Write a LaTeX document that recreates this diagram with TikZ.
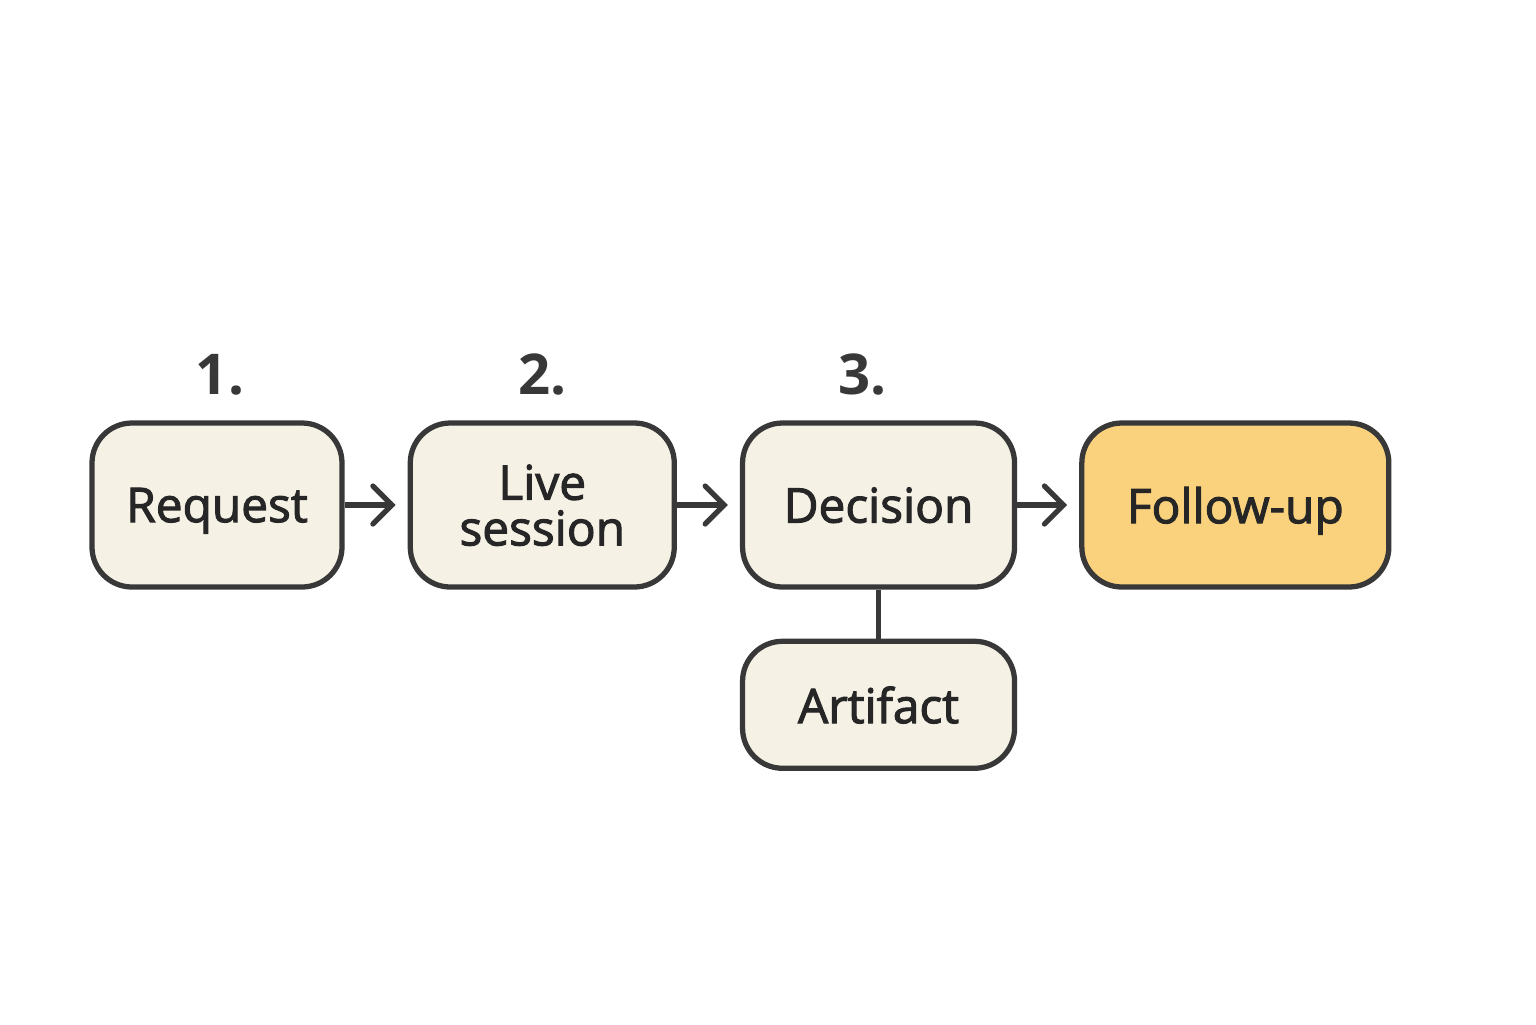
\documentclass[tikz,border=0pt]{standalone}
\usepackage{fontspec}
\setmainfont{Open Sans}
\newfontfamily\labelfont{Open Sans}[BoldFont=Open Sans, BoldFeatures={FakeBold=2.2}]
\usetikzlibrary{positioning,arrows.meta}

\definecolor{cream}{HTML}{F5F1E5}
\definecolor{amber}{HTML}{FAD27D}
\definecolor{ink}{HTML}{383838}
\definecolor{txt}{HTML}{262626}

\begin{document}
\begin{tikzpicture}[
  box/.style={draw=ink, line width=1.5pt, fill=cream, rounded corners=4mm, align=center,
    minimum height=1.64cm, inner sep=0pt, text=txt, text depth=0pt,
    font=\labelfont\bfseries\fontsize{13.6}{13}\selectfont},
  arr/.style={-{Straight Barb[length=1.9mm, width=3.8mm, line cap=round]}, line width=1.5pt, draw=ink, shorten >=1.2mm},
  stepno/.style={font=\bfseries\fontsize{16}{16}\selectfont, text=ink, inner sep=0pt},
]
\useasboundingbox (0,0) rectangle (15.36,-10.24);
\node[box, minimum width=2.5cm] (req) at (2.17,-5.05) {Request};
\node[box, minimum width=2.64cm, right=0.63cm of req] (live) {Live\\session};
\node[box, minimum width=2.72cm, right=0.63cm of live] (dec) {Decision};
\node[box, minimum width=3.07cm, fill=amber, right=0.62cm of dec] (fol) {Follow-up};
\node[box, minimum width=2.72cm, minimum height=1.27cm, below=0.49cm of dec] (art) {Artifact};
% step numbers
\node[stepno, above=0.24cm of req, xshift=0.03cm] (n1) {1.};
\node[stepno, above=0.24cm of live] (n2) {2.};
\node[stepno, above=0.24cm of dec, xshift=-0.16cm] (n3) {3.};
\draw[arr] (req) -- (live);
\draw[arr] (live) -- (dec);
\draw[arr] (dec) -- (fol);
\draw[line width=1.5pt, draw=ink] (dec) -- (art);
\end{tikzpicture}
\end{document}
